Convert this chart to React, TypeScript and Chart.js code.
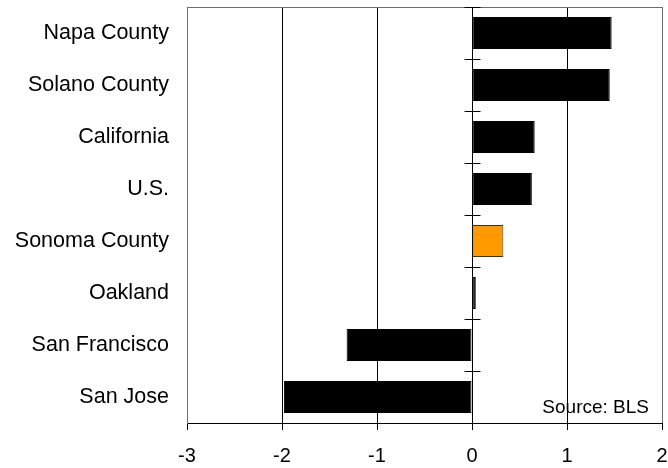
import React, { useEffect, useRef } from "react";
import { Chart, registerables } from "chart.js";

Chart.register(...registerables);

// Regions, top to bottom
const regions = [
  "Napa County",
  "Solano County",
  "California",
  "U.S.",
  "Sonoma County",
  "Oakland",
  "San Francisco",
  "San Jose",
];

// Percent change
const changes = [1.47, 1.45, 0.66, 0.63, 0.33, 0.04, -1.32, -1.98];

const highlightRegion = "Sonoma County";
const xTicks = [-3, -2, -1, 0, 1, 2];
const sourceNote = "Source: BLS";

const FONT = "'Liberation Sans', Arial, Helvetica, sans-serif";

// drop the automatic label-overflow padding so the layout padding decides the plot box
const clearPadding = (scale: any) => {
  scale.paddingTop = 0;
  scale.paddingBottom = 0;
  scale.paddingLeft = 0;
  scale.paddingRight = 0;
};

const framePlugin = {
  id: "frame",
  afterDraw(chart: any) {
    const { ctx, chartArea, scales } = chart;
    const { left, right, top, bottom } = chartArea;
    ctx.save();
    // top and right frame lines
    ctx.strokeStyle = "#6e6e6e";
    ctx.lineWidth = 1;
    ctx.beginPath();
    ctx.moveTo(left, Math.round(top) + 0.5);
    ctx.lineTo(right + 0.5, Math.round(top) + 0.5);
    ctx.moveTo(Math.round(right) + 0.5, top);
    ctx.lineTo(Math.round(right) + 0.5, bottom);
    ctx.stroke();

    // category ticks crossing the zero line
    const x0 = Math.round(scales.x.getPixelForValue(0)) + 0.5;
    const n = regions.length;
    ctx.strokeStyle = "#000";
    ctx.beginPath();
    for (let i = 0; i <= n; i++) {
      const y = Math.round(top + ((bottom - top) * i) / n) + 0.5;
      ctx.moveTo(x0 - 8, y);
      ctx.lineTo(x0 + 8, y);
    }
    ctx.stroke();

    // source note
    ctx.fillStyle = "#000";
    ctx.font = `19px ${FONT}`;
    ctx.textAlign = "right";
    ctx.textBaseline = "alphabetic";
    ctx.fillText(sourceNote, right - 13, bottom - 10);
    ctx.restore();
  },
};

export default function App() {
  const canvasRef = useRef<HTMLCanvasElement | null>(null);

  useEffect(() => {
    if (!canvasRef.current) return;
    const chart = new Chart(canvasRef.current, {
      type: "bar",
      data: {
        labels: regions,
        datasets: [
          {
            data: changes,
            backgroundColor: regions.map((r) => (r === highlightRegion ? "#FF9900" : "#000000")),
            borderColor: regions.map((r) => (r === highlightRegion ? "#333333" : "#000000")),
            borderWidth: 1,
            borderSkipped: false,
            barPercentage: 0.615,
            categoryPercentage: 1,
          },
        ],
      },
      options: {
        indexAxis: "y",
        animation: false,
        responsive: true,
        maintainAspectRatio: false,
        layout: { padding: { top: 7, right: 6, left: 0, bottom: 0 } },
        plugins: {
          legend: { display: false },
          tooltip: { enabled: false },
        },
        scales: {
          x: {
            type: "linear",
            min: xTicks[0],
            max: xTicks[xTicks.length - 1],
            afterBuildTicks: (scale: any) => {
              scale.ticks = xTicks.map((v) => ({ value: v }));
            },
            ticks: {
              color: "#000",
              font: { family: FONT, size: 20 },
              padding: 14,
            },
            grid: {
              color: "#000",
              lineWidth: 1,
              tickLength: 7,
              drawTicks: true,
            },
            border: { display: true, color: "#000", width: 1 },
            afterFit: (scale: any) => {
              scale.height = 45;
              clearPadding(scale);
            },
          },
          y: {
            type: "category",
            grid: { display: false, drawTicks: false },
            border: { display: true, color: "#6e6e6e", width: 1 },
            ticks: {
              color: "#000",
              font: { family: FONT, size: 21.5 },
              padding: 18,
            },
            afterFit: (scale: any) => {
              scale.width = 187;
              clearPadding(scale);
            },
          },
        },
      },
      plugins: [framePlugin],
    });
    return () => chart.destroy();
  }, []);

  return (
    <div style={{ position: "fixed", left: 0, top: 0, width: 668, height: 468, background: "#fff" }}>
      <canvas ref={canvasRef} />
    </div>
  );
}
